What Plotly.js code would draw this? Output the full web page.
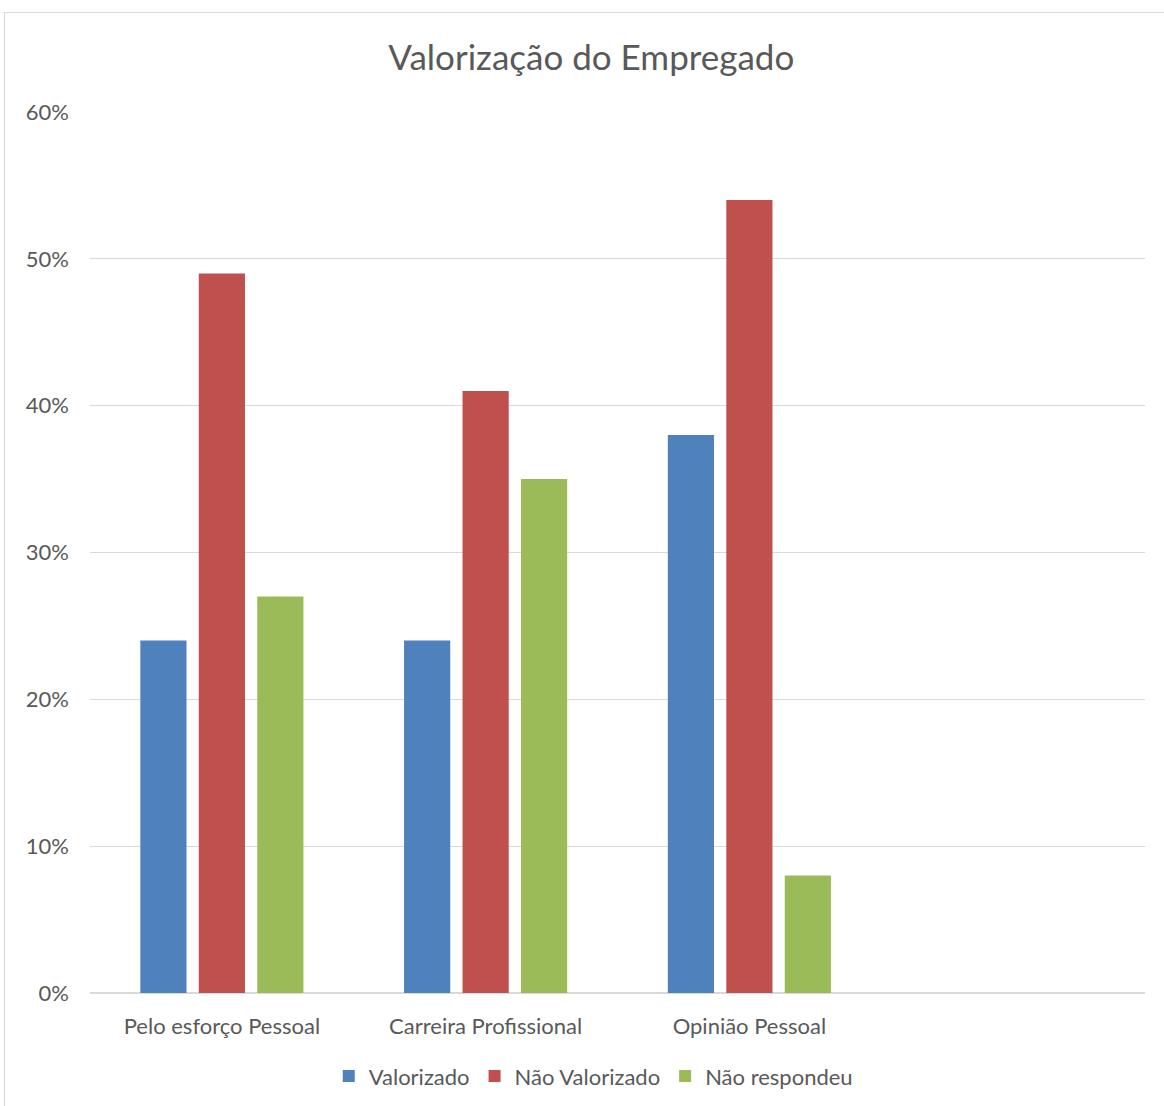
<!DOCTYPE html>
<html><head><meta charset="utf-8">
<script src="https://cdn.plot.ly/plotly-3.0.1.min.js"></script>
<style>
body{margin:0;background:#fff;}
#frame{position:absolute;left:4px;top:12px;width:1200px;height:1200px;border:1px solid #d9d9d9;box-sizing:border-box;}
#chart{position:absolute;left:0;top:0;width:1164px;height:1106px;}
</style></head>
<body>
<div id="frame"></div>
<div id="chart"></div>
<script>
const categories = ["Pelo esforço Pessoal", "Carreira Profissional", "Opinião Pessoal"];
const valorizado = [0.24, 0.24, 0.38];
const naoValorizado = [0.49, 0.41, 0.54];
const naoRespondeu = [0.27, 0.35, 0.08];
const seriesNames = ["Valorizado", "Não Valorizado", "Não respondeu"];
const colors = ["#4f81bd", "#c0504d", "#9bbb59"];

const data = [valorizado, naoValorizado, naoRespondeu].map((v, i) => ({
  type: "bar", x: categories, y: v, name: seriesNames[i],
  marker: {color: colors[i]}
}));

const layout = {
  width: 1164, height: 1106,
  paper_bgcolor: "rgba(0,0,0,0)", plot_bgcolor: "rgba(0,0,0,0)",
  margin: {l: 90, r: 19, t: 112, b: 113},
  font: {family: "Lato, 'Open Sans', sans-serif", color: "#595959", size: 21},
  title: {text: "Valorização do Empregado", x: 0.508, xanchor: "center", y: 0.948, yanchor: "middle",
          font: {size: 35, color: "#595959"}},
  barmode: "group", bargap: 0.335, bargroupgap: 0.21,
  xaxis: {type: "category", range: [-0.5, 3.5], showgrid: false, zeroline: false,
          showline: false, ticks: "", ticklabelstandoff: 18, tickfont: {size: 22}},
  yaxis: {range: [0, 0.6], dtick: 0.1, tickformat: ".0%", gridcolor: "#d9d9d9", gridwidth: 1,
          zeroline: true, zerolinecolor: "#d9d9d9", zerolinewidth: 1.5, showline: false,
          ticklabelstandoff: 20, tickfont: {size: 22}},
  legend: {orientation: "h", x: 0.477, xanchor: "center", yref: "container", y: 0.027, yanchor: "middle",
           font: {size: 22}, itemwidth: 30, traceorder: "normal"},
  showlegend: true
};
Plotly.newPlot("chart", data, layout, {displayModeBar: false});
</script>
</body></html>
